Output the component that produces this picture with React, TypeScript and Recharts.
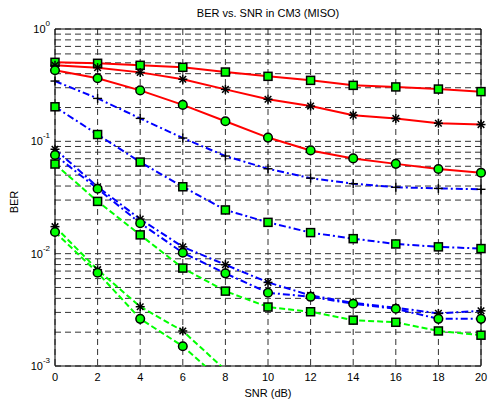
import React from 'react';
import { LineChart, Line, XAxis, YAxis, CartesianGrid, ReferenceArea } from 'recharts';

// SNR in dB
const snr = [0, 2, 4, 6, 8, 10, 12, 14, 16, 18, 20];

// red solid curves
const redSquare = [0.505, 0.495, 0.475, 0.456, 0.414, 0.379, 0.349, 0.315, 0.305, 0.292, 0.277];
const redStar = [0.475, 0.453, 0.411, 0.357, 0.29, 0.237, 0.206, 0.171, 0.16, 0.145, 0.141];
const redCircle = [0.429, 0.364, 0.284, 0.211, 0.151, 0.108, 0.083, 0.0705, 0.063, 0.0567, 0.0526];

// blue dash-dot curves
const bluePlus = [0.344, 0.241, 0.16, 0.107, 0.074, 0.057, 0.047, 0.042, 0.039, 0.0381, 0.0374];
const blueSquare = [0.203, 0.115, 0.0654, 0.0394, 0.0245, 0.019, 0.0154, 0.0136, 0.0122, 0.0115, 0.0111];
const blueStar = [0.085, 0.0394, 0.0203, 0.0115, 0.00797, 0.00555, 0.00425, 0.00365, 0.0033, 0.00294, 0.0031];
const blueCircle = [0.0755, 0.0378, 0.0187, 0.0102, 0.00668, 0.00449, 0.00413, 0.00358, 0.00323, 0.00263, 0.00263];

// green dashed curves (the last two drop below 1e-3 after 6 dB)
const greenSquare = [0.0628, 0.0292, 0.0147, 0.00744, 0.00464, 0.00335, 0.00304, 0.00256, 0.00245, 0.00205, 0.00188];
const greenStar = [0.0174, 0.0072, 0.00337, 0.00205, 0.00092, null, null, null, null, null, null];
const greenCircle = [0.0156, 0.00677, 0.00263, 0.0015, 0.00069, null, null, null, null, null, null];

const snrTicks = [0, 2, 4, 6, 8, 10, 12, 14, 16, 18, 20];
const berTicks = [
  0.001, 0.002, 0.003, 0.004, 0.005, 0.006, 0.007, 0.008, 0.009,
  0.01, 0.02, 0.03, 0.04, 0.05, 0.06, 0.07, 0.08, 0.09,
  0.1, 0.2, 0.3, 0.4, 0.5, 0.6, 0.7, 0.8, 0.9, 1,
];

const data = snr.map((s, i) => ({
  snr: s,
  redSquare: redSquare[i],
  redStar: redStar[i],
  redCircle: redCircle[i],
  bluePlus: bluePlus[i],
  blueSquare: blueSquare[i],
  blueStar: blueStar[i],
  blueCircle: blueCircle[i],
  greenSquare: greenSquare[i],
  greenStar: greenStar[i],
  greenCircle: greenCircle[i],
}));

const FONT = '"Liberation Sans", Arial, Helvetica, sans-serif';
const RED = '#ff0000';
const BLUE = '#0000ff';
const GREEN = '#00ff00';

type Marker = 'square' | 'circle' | 'star' | 'plus';

const makeDot = (kind: Marker) => (props: any) => {
  const { cx, cy, value, index } = props;
  const k = `${kind}-${index}`;
  if (cx == null || cy == null || value == null || value < 0.001) return <g key={k} />;
  if (kind === 'square') {
    return <rect key={k} x={cx - 4} y={cy - 4} width={8} height={8} fill={GREEN} stroke="#000" strokeWidth={1.5} />;
  }
  if (kind === 'circle') {
    return <circle key={k} cx={cx} cy={cy} r={4.3} fill={GREEN} stroke="#000" strokeWidth={1.5} />;
  }
  if (kind === 'plus') {
    return (
      <g key={k} stroke="#000" strokeWidth={1.4}>
        <line x1={cx - 4.5} y1={cy} x2={cx + 4.5} y2={cy} />
        <line x1={cx} y1={cy - 4.5} x2={cx} y2={cy + 4.5} />
      </g>
    );
  }
  return (
    <g key={k} stroke="#000" strokeWidth={1.5}>
      <line x1={cx - 4.5} y1={cy} x2={cx + 4.5} y2={cy} />
      <line x1={cx} y1={cy - 4.5} x2={cx} y2={cy + 4.5} />
      <line x1={cx - 3.3} y1={cy - 3.3} x2={cx + 3.3} y2={cy + 3.3} />
      <line x1={cx - 3.3} y1={cy + 3.3} x2={cx + 3.3} y2={cy - 3.3} />
    </g>
  );
};

const YTick = (props: any) => {
  const { x, y, payload } = props;
  const exp = Math.log10(payload.value);
  if (Math.abs(exp - Math.round(exp)) > 1e-6) return <g />;
  return (
    <text x={x - 5} y={y} textAnchor="end" fontFamily={FONT} fill="#000">
      <tspan fontSize={11} dy={4}>10</tspan>
      <tspan fontSize={8} dy={-7}>{Math.round(exp)}</tspan>
    </text>
  );
};

const series: { key: string; color: string; dash?: string; marker: Marker }[] = [
  { key: 'redSquare', color: RED, marker: 'square' },
  { key: 'redStar', color: RED, marker: 'star' },
  { key: 'redCircle', color: RED, marker: 'circle' },
  { key: 'bluePlus', color: BLUE, dash: '7 3 2 3', marker: 'plus' },
  { key: 'blueSquare', color: BLUE, dash: '7 3 2 3', marker: 'square' },
  { key: 'blueStar', color: BLUE, dash: '7 3 2 3', marker: 'star' },
  { key: 'blueCircle', color: BLUE, dash: '7 3 2 3', marker: 'circle' },
  { key: 'greenSquare', color: GREEN, dash: '6 3', marker: 'square' },
  { key: 'greenStar', color: GREEN, dash: '6 3', marker: 'star' },
  { key: 'greenCircle', color: GREEN, dash: '6 3', marker: 'circle' },
];

export default function App() {
  return (
    <div style={{ position: 'absolute', left: 0, top: 0, width: 489, height: 404, background: '#fff', fontFamily: FONT }}>
      <style>{`.recharts-line-dots{clip-path:none !important}`}</style>
      <div style={{ position: 'absolute', top: 5, left: 55, width: 426, textAlign: 'center', fontSize: 11, lineHeight: '16px', color: '#000' }}>
        BER vs. SNR in CM3 (MISO)
      </div>
      <div
        style={{
          position: 'absolute', left: 14, top: 202, fontSize: 11, color: '#000',
          transform: 'translate(-50%, -50%) rotate(-90deg)', whiteSpace: 'nowrap',
        }}
      >
        BER
      </div>
      <div style={{ position: 'absolute', top: 385, left: 55, width: 426, textAlign: 'center', fontSize: 11, lineHeight: '16px', color: '#000' }}>
        SNR (dB)
      </div>
      <LineChart width={489} height={404} data={data} margin={{ top: 29, right: 8, bottom: 0, left: 0 }}>
        <CartesianGrid stroke="#333" strokeDasharray="6 4" strokeWidth={1} />
        <XAxis
          dataKey="snr"
          type="number"
          domain={[0, 20]}
          ticks={snrTicks}
          height={38}
          tickLine={false}
          axisLine={false}
          tickSize={0}
          tickMargin={7}
          tick={{ fontSize: 11, fill: '#000', fontFamily: FONT }}
        />
        <YAxis
          type="number"
          scale="log"
          domain={[0.001, 1]}
          allowDataOverflow
          ticks={berTicks}
          width={55}
          tickLine={false}
          axisLine={false}
          tickSize={0}
          tickMargin={0}
          interval={0}
          tick={<YTick />}
        />
        <ReferenceArea x1={0} x2={20} y1={0.001} y2={1} fill="none" stroke="#000" strokeWidth={1} />
        {series.map((s) => (
          <Line
            key={s.key}
            dataKey={s.key}
            type="linear"
            stroke={s.color}
            strokeWidth={2}
            strokeDasharray={s.dash}
            dot={makeDot(s.marker)}
            activeDot={false}
            isAnimationActive={false}
            connectNulls={false}
          />
        ))}
      </LineChart>
    </div>
  );
}
